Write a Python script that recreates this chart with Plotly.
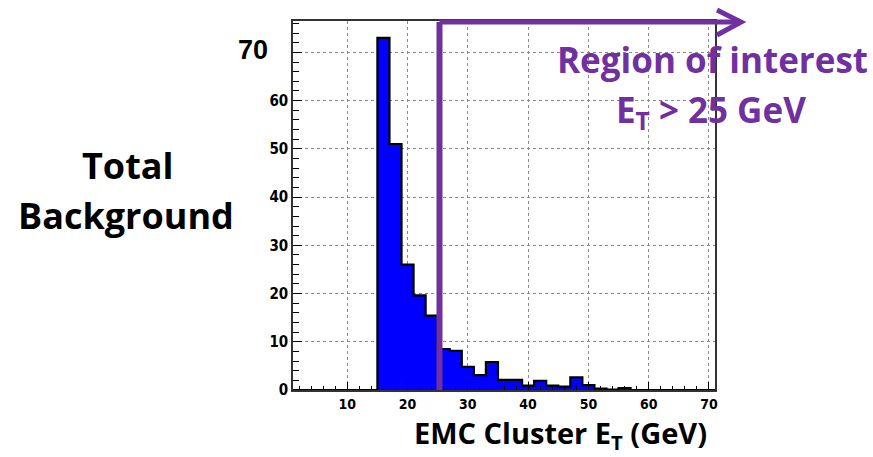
import plotly.graph_objects as go

# ---- data ----
BIN_LOW = 1          # GeV, first bin edge
BIN_WIDTH = 2        # GeV
COUNTS = [0, 0, 0, 0, 0, 0, 0,
          73.0, 51.0, 26.0, 19.6, 15.4, 8.5, 8.1, 4.8, 3.1, 5.8, 2.1, 2.1,
          0.9, 1.9, 0.9, 0.7, 2.6, 1.0, 0.3, 0.1, 0.4,
          0, 0, 0, 0, 0, 0, 0]
X_TICKS = [10, 20, 30, 40, 50, 60, 70]
Y_TICKS = [0, 10, 20, 30, 40, 50, 60, 70]
Y_TICK_TEXT = ["0", "10", "20", "30", "40", "50", "60", ""]
THRESHOLD = 25.3     # region-of-interest marker position (GeV)

XMIN, XMAX = 1, 71
YMIN, YMAX = 0, 76.5

edges = [BIN_LOW + i * BIN_WIDTH for i in range(len(COUNTS) + 1)]
step_y = COUNTS + [COUNTS[-1]]

W, H = 873, 457
L, R, T, B = 293, 158, 21, 67
PW, PH = W - L - R, H - T - B

def px(xp):
    return (xp - L) / PW

def py(yp):
    return (H - B - yp) / PH

PURPLE = "#7030A0"
BIGFONT = "'Open Sans', Lato, sans-serif"
TICKFONT = dict(family="'Liberation Sans Narrow', 'DejaVu Sans Condensed', Arial, sans-serif",
                color="black", weight="bold")

fig = go.Figure()
fig.add_trace(go.Scatter(
    x=edges, y=step_y, mode="lines", line_shape="hv",
    line=dict(color="black", width=2.2),
    fill="tozeroy", fillcolor="#0000FF", showlegend=False, hoverinfo="skip"))

fig.update_layout(
    width=W, height=H, margin=dict(l=L, r=R, t=T, b=B),
    plot_bgcolor="white", paper_bgcolor="white", showlegend=False,
    xaxis=dict(range=[XMIN, XMAX], tickvals=X_TICKS, ticks="inside", ticklen=8,
               tickwidth=1, tickcolor="black", showline=True, linecolor="#333",
               linewidth=1.5, mirror=True, showgrid=True, gridcolor="#8a8a8a",
               griddash="dot", gridwidth=1, zeroline=False,
               tickfont=dict(size=14, **TICKFONT),
               minor=dict(dtick=2, tick0=0, ticks="inside", ticklen=4,
                          tickcolor="black", showgrid=False)),
    yaxis=dict(range=[YMIN, YMAX], tickvals=Y_TICKS, ticktext=Y_TICK_TEXT,
               ticks="inside", ticklen=9, tickwidth=1, tickcolor="black",
               showline=True, linecolor="#333", linewidth=1.5, mirror=True,
               showgrid=True, gridcolor="#8a8a8a", griddash="dot", gridwidth=1,
               zeroline=False, tickfont=dict(size=15, **TICKFONT),
               minor=dict(dtick=2, tick0=0, ticks="inside", ticklen=6,
                          tickcolor="black", showgrid=False)),
)

# region-of-interest arrow
thr_paper = (THRESHOLD - XMIN) / (XMAX - XMIN)
top_y = py(22)
fig.add_shape(type="line", xref="x", yref="paper", x0=THRESHOLD, x1=THRESHOLD,
              y0=0, y1=top_y, line=dict(color=PURPLE, width=6))
fig.add_shape(type="line", xref="paper", yref="paper", x0=thr_paper, x1=px(739),
              y0=top_y, y1=top_y, line=dict(color=PURPLE, width=5))
fig.add_shape(type="path", xref="paper", yref="paper",
              path=f"M {px(717)} {py(10)} L {px(741)} {top_y} L {px(717)} {py(35)}",
              line=dict(color=PURPLE, width=5))

def ann(text, xc, yc, size, color="black", family=BIGFONT):
    fig.add_annotation(text=text, xref="paper", yref="paper", x=px(xc), y=py(yc),
                       xanchor="center", yanchor="middle", showarrow=False,
                       font=dict(family=family, size=size, color=color, weight="bold"))

ann("Region of interest", 712, 59, 35, PURPLE)
ann("E<sub>T</sub> > 25 GeV", 711, 111, 35, PURPLE)
ann("Total", 128, 165, 36)
ann("Background", 126, 215, 36)
ann("EMC Cluster E<sub>T</sub> (GeV)", 560, 434, 29)
ann("70", 253, 50, 27, family="'Liberation Sans', Arial, sans-serif")

fig.write_html("out.html")
